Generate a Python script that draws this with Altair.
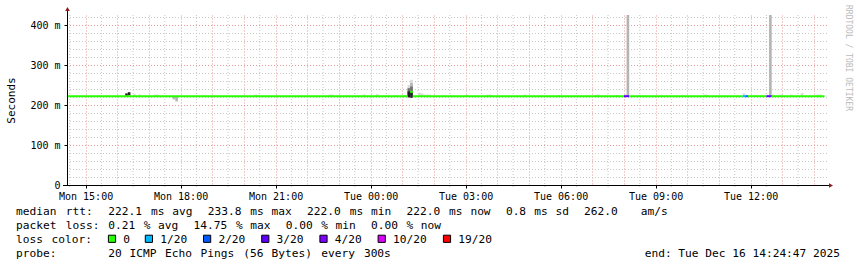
import re
import altair as alt
import pandas as pd

# ---------------- data ----------------
T_START = "2025-12-15 14:24:47"
T_END = "2025-12-16 14:24:47"
STEP_SECONDS = 300

smoke_time = [
    "2025-12-15 16:15", "2025-12-15 16:20", "2025-12-15 16:30", "2025-12-15 16:40",
    "2025-12-15 17:10", "2025-12-15 17:15", "2025-12-15 17:45", "2025-12-15 17:50",
    "2025-12-15 20:20", "2025-12-15 20:25", "2025-12-15 22:40", "2025-12-15 22:45",
    "2025-12-15 23:45", "2025-12-16 00:10",
    "2025-12-16 01:10", "2025-12-16 01:10", "2025-12-16 01:10",
    "2025-12-16 01:15", "2025-12-16 01:15", "2025-12-16 01:15", "2025-12-16 01:15",
    "2025-12-16 01:30", "2025-12-16 01:35", "2025-12-16 01:40", "2025-12-16 01:45",
    "2025-12-16 01:50", "2025-12-16 03:00", "2025-12-16 03:40", "2025-12-16 03:45",
    "2025-12-16 04:50", "2025-12-16 05:55", "2025-12-16 07:05", "2025-12-16 07:10",
    "2025-12-16 07:45", "2025-12-16 08:00", "2025-12-16 08:05", "2025-12-16 10:30",
    "2025-12-16 10:35", "2025-12-16 11:45", "2025-12-16 12:35", "2025-12-16 12:40",
    "2025-12-16 12:55", "2025-12-16 13:15", "2025-12-16 13:35", "2025-12-16 14:05",
    "2025-12-16 14:10",
]
smoke_lo = [
    223, 224, 222, 222,
    222, 222, 214, 209,
    222, 222, 222, 222,
    222, 222,
    222, 222, 219,
    222, 222, 224, 218,
    222, 222, 222, 222,
    222, 222, 222, 222,
    222, 222, 222, 222,
    222, 222, 222, 222,
    222, 222, 222, 222,
    222, 222, 222, 222,
    222,
]
smoke_hi = [
    229, 232, 227, 226,
    226, 226, 222, 222,
    226, 225, 226, 226,
    226, 227,
    250, 242, 234,
    263, 255, 246, 231,
    231, 229, 226, 226,
    226, 226, 226, 226,
    226, 225, 226, 226,
    225, 226, 450, 226,
    226, 229, 450, 226,
    226, 226, 230, 226,
    226,
]
smoke_shade = [
    4, 4, 1, 1,
    1, 1, 2, 2,
    1, 1, 1, 1,
    1, 1,
    1, 3, 4,
    1, 2, 3, 4,
    1, 1, 1, 1,
    1, 1, 1, 1,
    1, 1, 1, 1,
    1, 1, 2, 1,
    1, 1, 2, 1,
    1, 1, 1, 1,
    1,
]

med_start = ["2025-12-15 14:25", "2025-12-16 01:15", "2025-12-16 01:20", "2025-12-16 08:00",
             "2025-12-16 08:10", "2025-12-16 11:45", "2025-12-16 11:50", "2025-12-16 11:55",
             "2025-12-16 12:30", "2025-12-16 12:40"]
med_end = ["2025-12-16 01:10", "2025-12-16 01:20", "2025-12-16 08:00", "2025-12-16 08:10",
           "2025-12-16 11:45", "2025-12-16 11:50", "2025-12-16 11:55", "2025-12-16 12:30",
           "2025-12-16 12:40", "2025-12-16 14:20"]
med_value = [222, 233, 222, 222, 222, 222, 222, 222, 222, 222]
med_loss = ["0", "0", "0", "3/20", "0", "1/20", "2/20", "0", "3/20", "0"]

loss_labels = ["0", "1/20", "2/20", "3/20", "4/20", "10/20", "19/20"]
loss_colors = ["#26ff00", "#00b8ff", "#0059ff", "#5e00ff", "#7e00ff", "#dd00ff", "#ff0000"]
shade_levels = [1, 2, 3, 4]
shade_colors = ["#dadada", "#b4b4b4", "#6e6e6e", "#222222"]

y_label_values = [0, 100, 200, 300, 400]
y_grid_step = 20
y_grid_top = 420
y_title = "Seconds"
legend_rows = [
    "median rtt:  222.1 ms avg  233.8 ms max  222.0 ms min  222.0 ms now  0.8 ms sd  262.0   am/s",
    "packet loss: 0.21 % avg  14.75 % max  0.00 % min  0.00 % now",
    "loss color:",
    "probe:       20 ICMP Echo Pings (56 Bytes) every 300s",
]
end_text = "end: Tue Dec 16 14:24:47 2025"
watermark = "RRDTOOL / TOBI OETIKER"

# ---------------- layout / style ----------------
W, H = 760, 170
PL, PT, PR, PB = 67, 15, 30, 82
MONO = "DejaVu Sans Mono"
RED_GRID = "#e39a9a"
GREY_GRID = "#c8c8c8"
ARROW = "#8b1c1c"
CHAR_W = 7.1
TEXT_X0 = 16
BASE0 = 215.3
LINE_H = 14


def ms(s):
    return int(pd.Timestamp(s, tz="UTC").value // 1_000_000)


t0, t1 = ms(T_START), ms(T_END)
step_ms = STEP_SECONDS * 1000
HALF_HOUR = 30 * 60 * 1000
HOUR = 2 * HALF_HOUR
shade_map = dict(zip(shade_levels, shade_colors))
loss_map = dict(zip(loss_labels, loss_colors))

smoke = pd.DataFrame({"t": [ms(s) for s in smoke_time], "lo": smoke_lo,
                      "hi": smoke_hi, "shade": smoke_shade})
smoke["t2"] = smoke["t"] + step_ms
smoke["c"] = smoke["shade"].map(shade_map)
smoke = smoke.sort_values("shade", kind="stable")

med = pd.DataFrame({"t": [ms(s) for s in med_start], "t2": [ms(s) for s in med_end],
                    "v": med_value, "loss": med_loss})
med["c"] = med["loss"].map(loss_map)

# grid / tick positions
x_half = list(range(ms("2025-12-15 14:30"), t1, HALF_HOUR))
x_hour_values = [t for t in x_half if t % HOUR == 0]
x_label_values = [t for t in x_hour_values if t % (3 * HOUR) == 0]
xg = pd.DataFrame({"t": [t for t in x_half if t % HOUR != 0]})
y_grid = list(range(y_grid_step, y_grid_top + 1, y_grid_step))
yg = pd.DataFrame({"v": y_grid})
yg["c"] = [RED_GRID if v % 100 == 0 else GREY_GRID for v in y_grid]

x_scale = alt.Scale(type="utc", domain=[t0, t1])
y_scale = alt.Scale(domain=[0, 425], nice=False, zero=True)

x_axis_bottom = alt.Axis(
    orient="bottom", values=x_label_values, title=None, domain=False, grid=False,
    labelExpr="utcFormat(datum.value, '%a %H:%M')",
    labelFont=MONO, labelFontSize=10, labelColor="black", labelPadding=3,
    labelOverlap=False, labelFlush=False, tickSize=3, tickColor="black",
)
x_axis_top = alt.Axis(
    orient="top", values=x_hour_values, title=None, domain=False, labels=False, ticks=False,
    grid=True, gridColor=RED_GRID, gridDash=[1, 2], gridWidth=1,
)
y_axis = alt.Axis(
    values=y_label_values, title=y_title, domain=False, grid=False,
    labelExpr="datum.value == 0 ? '0\u00a0\u00a0' : datum.value + ' m'",
    labelFont=MONO, labelFontSize=10, labelColor="black", labelPadding=4,
    labelOverlap=False, tickSize=3, tickColor="black",
    titleFont=MONO, titleFontSize=11, titleFontWeight="normal", titleColor="black",
    titleX=-56, titleY=H / 2, titleAngle=270, titleAlign="center", titleBaseline="middle",
)

xgrid_layer = alt.Chart(xg).mark_rule(strokeDash=[1, 2], strokeWidth=1, color=GREY_GRID).encode(
    x=alt.X("t:T", scale=x_scale, axis=x_axis_top),
    y=alt.value(0), y2=alt.value(H + 2),
)
ygrid_layer = alt.Chart(yg).mark_rule(strokeDash=[1, 2], strokeWidth=1, yOffset=0.5).encode(
    y=alt.Y("v:Q", scale=y_scale, axis=y_axis),
    color=alt.Color("c:N", scale=None, legend=None),
)

smoke_layer = alt.Chart(smoke).mark_rect(clip=True).encode(
    x=alt.X("t:T", axis=x_axis_bottom), x2="t2:T", y="lo:Q", y2="hi:Q",
    color=alt.Color("c:N", scale=None, legend=None),
)

median_layer = alt.Chart(med).mark_rule(strokeWidth=2).encode(
    x=alt.X("t:T", axis=None), x2="t2:T", y="v:Q",
    color=alt.Color("c:N", scale=None, legend=None),
)

dummy = pd.DataFrame({"k": [0]})
yaxis_line = alt.Chart(dummy).mark_rule(color="black", strokeWidth=1).encode(
    x=alt.value(0.5), y=alt.value(-4), y2=alt.value(H))
xaxis_line = alt.Chart(dummy).mark_rule(color="black", strokeWidth=1).encode(
    x=alt.value(-4), x2=alt.value(W + 2), y=alt.value(H + 0.5))
arrow_up = alt.Chart(dummy).mark_point(shape="triangle-up", filled=True, color=ARROW,
                                       size=22, opacity=1).encode(x=alt.value(0.5), y=alt.value(-6))
arrow_right = alt.Chart(dummy).mark_point(shape="triangle-right", filled=True, color=ARROW,
                                          size=22, opacity=1).encode(x=alt.value(W + 4), y=alt.value(H + 0.5))
wm_layer = alt.Chart(dummy).mark_text(angle=90, align="left", baseline="middle", font=MONO,
                                      fontSize=8, color="#bbbbbb").encode(
    x=alt.value(848 - PL), y=alt.value(5 - PT), text=alt.value(watermark))

main = alt.layer(xgrid_layer, ygrid_layer, smoke_layer, median_layer,
                 yaxis_line, xaxis_line, arrow_up, arrow_right, wm_layer)

# legend text under the plot (monospace grid)
rows = []
for r, line in enumerate(legend_rows):
    for m in re.finditer(r"\S+", line):
        rows.append({"x": TEXT_X0 + m.start() * CHAR_W - PL,
                     "y": BASE0 + r * LINE_H - PT, "text": m.group()})
boxes = []
left = TEXT_X0 + 13 * CHAR_W
for lab, col in zip(loss_labels, loss_colors):
    boxes.append({"x": left + 3.7 - PL, "y": BASE0 + 2 * LINE_H - 4.5 - PT, "c": col})
    tx = left + 15
    rows.append({"x": tx - PL, "y": BASE0 + 2 * LINE_H - PT, "text": lab})
    left = tx + len(lab) * CHAR_W + 14.8
text_df = pd.DataFrame(rows)
box_df = pd.DataFrame(boxes)
end_df = pd.DataFrame({"x": [840 - PL], "y": [BASE0 + 3 * LINE_H - PT], "text": [end_text]})

legend_text = alt.Chart(text_df).mark_text(align="left", baseline="alphabetic", font=MONO,
                                           fontSize=11.2, color="black").encode(
    x=alt.X("x:Q", scale=None, axis=None), y=alt.Y("y:Q", scale=None, axis=None), text="text:N")
end_layer = alt.Chart(end_df).mark_text(align="right", baseline="alphabetic", font=MONO,
                                        fontSize=11.2, color="black").encode(
    x=alt.X("x:Q", scale=None, axis=None), y=alt.Y("y:Q", scale=None, axis=None), text="text:N")
box_layer = alt.Chart(box_df).mark_square(size=52, stroke="black", strokeWidth=1, opacity=1).encode(
    x=alt.X("x:Q", scale=None, axis=None), y=alt.Y("y:Q", scale=None, axis=None),
    fill=alt.Fill("c:N", scale=None, legend=None))

labels = alt.layer(legend_text, end_layer, box_layer)

chart = alt.layer(main, labels).resolve_scale(x="independent", y="independent").properties(
    width=W, height=H,
    autosize=alt.AutoSizeParams(type="none"),
    padding={"left": PL, "top": PT, "right": PR, "bottom": PB},
    background="white",
).configure_view(stroke=None)

chart.save("out.html", embed_options={"renderer": "svg", "actions": False})
